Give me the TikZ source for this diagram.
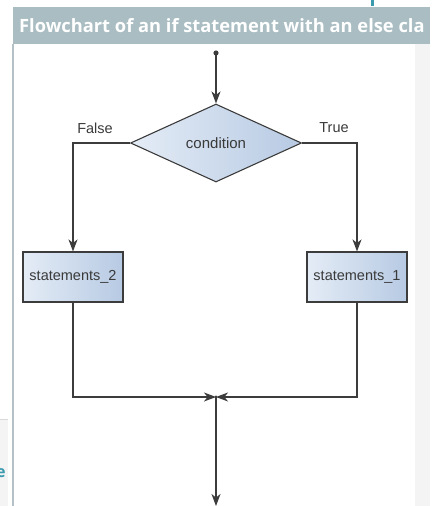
\documentclass[tikz,border=0pt]{standalone}
\usepackage{fontspec}
\setmainfont{Liberation Sans}
\newfontfamily\titlefont{Open Sans}
\usetikzlibrary{shapes.geometric,arrows.meta}
\definecolor{barcol}{HTML}{A9BDC2}
\definecolor{edgecol}{HTML}{B4C2C7}
\definecolor{panelcol}{HTML}{F4F4F4}
\definecolor{tealcol}{HTML}{3A9AAE}
\definecolor{fillleft}{HTML}{E4ECF6}
\definecolor{fillright}{HTML}{B7CAE3}
\definecolor{linecol}{HTML}{3C3C3C}
\definecolor{textcol}{HTML}{3A3A3A}
\begin{document}
\begin{tikzpicture}[x=1pt,y=-1pt,
    flow/.style={draw=linecol,line width=1.2pt,-{Stealth[length=12pt,width=9pt,inset=3.5pt]}},
    stmt/.style={draw=linecol,line width=1.1pt,left color=fillleft,right color=fillright,
        minimum width=100pt,minimum height=50pt,inner sep=0pt,font=\fontsize{14.5}{16}\selectfont,text=textcol},
    decision/.style={diamond,draw=linecol,line width=1.1pt,left color=fillleft,right color=fillright,
        minimum width=171pt,minimum height=78pt,inner sep=0pt,aspect=2.2,font=\fontsize{15}{17}\selectfont,text=textcol},
    lbl/.style={font=\fontsize{14.5}{16}\selectfont,text=textcol}]
\useasboundingbox (0,0) rectangle (435,506);

% page around the figure
\fill[panelcol] (415,44) rectangle (430,506);
\fill[tealcol] (371,0) rectangle (374,6);
\fill[barcol] (13,7) rectangle (430,44);
\draw[edgecol,line width=1.5pt] (13,44) -- (13,506);
\fill[panelcol] (0,419) rectangle (8,506);
\draw[gray!30,line width=1pt] (0,419) -- (8,419);
\begin{scope}
\clip (13,7) rectangle (430,44);
\node[anchor=base west,text=white,inner sep=0pt] (title) at (19,32)
    {\titlefont\bfseries\fontsize{18.3}{20}\selectfont Flowchart of an if statement with an else cla};
\end{scope}
\begin{scope}
\clip (0,419) rectangle (8,506);
\node[anchor=base west,text=tealcol,inner sep=0pt] (cut) at (-4,477)
    {\titlefont\bfseries\fontsize{16}{18}\selectfont e};
\end{scope}

% flowchart
\coordinate (start) at (216,53);
\node[decision] (cond) at (216,143) {condition};
\node[stmt] (s2) at (73,277) {statements\_2};
\node[stmt] (s1) at (357,277) {statements\_1};
\coordinate (merge) at (216,397);
\coordinate (end) at (216,506);

\node[lbl] (false) at (95,128) {False};
\node[lbl] (true) at (334,128) {True};

\fill[linecol] (start) circle (2.6pt);
\draw[flow] (start) -- (cond.north);
\draw[flow] (cond.west) -| (s2.north);
\draw[flow] (cond.east) -| (s1.north);
\draw[flow] (s2.south) |- (merge);
\draw[flow] (s1.south) |- (merge);
\draw[flow] (merge) -- (end);
\fill[linecol] (merge) circle (1.6pt);
\end{tikzpicture}
\end{document}
